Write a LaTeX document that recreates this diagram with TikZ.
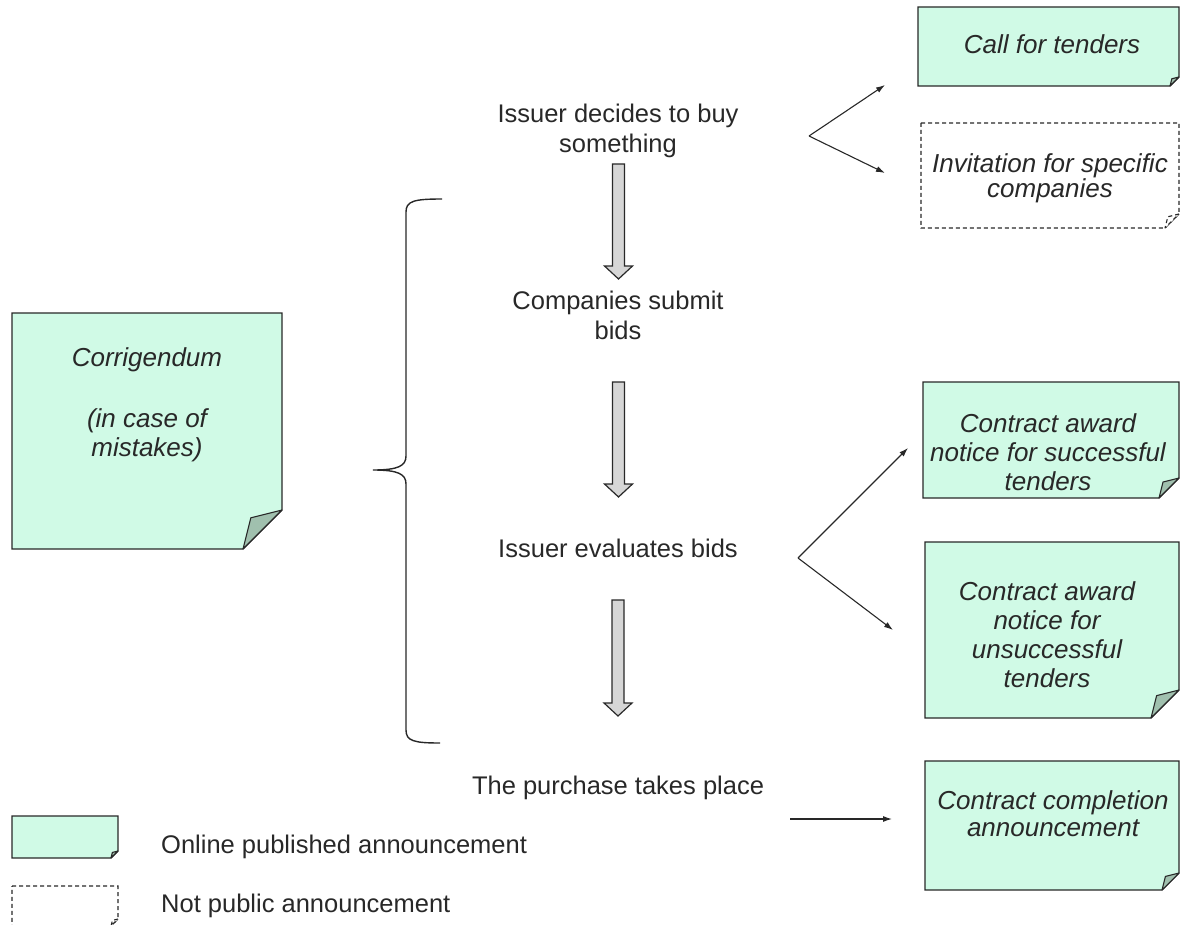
\documentclass[tikz,border=0pt]{standalone}
\usepackage{fontspec}
\setmainfont{Liberation Sans}
\usetikzlibrary{arrows.meta}

\definecolor{mint}{RGB}{208,250,230}
\definecolor{foldgreen}{RGB}{160,192,174}
\definecolor{ink}{RGB}{40,40,40}
\definecolor{arrowgray}{RGB}{214,214,214}

\tikzset{
  holder/.style={rectangle, inner sep=0pt, outer sep=0pt, anchor=north west},
  paperline/.style={draw=ink, line width=1.1pt, fill=mint, line join=miter},
  foldline/.style={draw=ink, line width=1.1pt, fill=foldgreen, line join=round},
  dashedpaper/.style={fill=white, dash pattern=on 4pt off 3pt},
  steptext/.style={font=\fontsize{25.5pt}{30pt}\selectfont, text=ink, align=center, inner sep=0pt},
  notetext/.style={font=\fontsize{26pt}{29pt}\selectfont\itshape, text=ink, align=center, inner sep=0pt},
  link/.style={draw=ink, line width=1.1pt, -{Latex[length=9pt,width=6pt]}},
  blockarrow/.style={draw=ink, fill=arrowgray, line width=1.2pt, line join=miter},
  bracket/.style={draw=ink, line width=1.4pt}
}

% sheet of paper with a folded lower right corner: [style] node, fold size
\newcommand\sheet[3][]{%
  \filldraw[paperline,#1] (#2.north west) -- (#2.north east)
    -- ([yshift=#3]#2.south east) -- ([xshift=-#3]#2.south east)
    -- (#2.south west) -- cycle;
  \filldraw[foldline,#1] ([yshift=#3]#2.south east)
    -- ([shift={(-0.8*#3,0.8*#3)}]#2.south east)
    -- ([xshift=-#3]#2.south east) -- cycle;}

% wide grey downward arrow: x, top, tip
\newcommand\blockarrow[3]{%
  \draw[blockarrow] (#1-6,#2) -- (#1+6,#2) -- (#1+6,#3-13) -- (#1+14,#3-13)
    -- (#1,#3) -- (#1-14,#3-13) -- (#1-6,#3-13) -- cycle;}

\begin{document}
\begin{tikzpicture}[x=1pt,y=-1pt]
\useasboundingbox (0,0) rectangle (1182,925);

% announcement sheets
\node[holder, minimum width=261pt, minimum height=79pt]  (call)   at (918,7)   {};
\node[holder, minimum width=258pt, minimum height=105pt] (invit)  at (921,123) {};
\node[holder, minimum width=270pt, minimum height=236pt] (corr)   at (12,313)  {};
\node[holder, minimum width=256pt, minimum height=116pt] (succ)   at (923,382) {};
\node[holder, minimum width=254pt, minimum height=176pt] (unsucc) at (925,542) {};
\node[holder, minimum width=254pt, minimum height=129pt] (compl)  at (925,761) {};
\node[holder, minimum width=106pt, minimum height=42pt]  (legpub) at (12,816)  {};
\node[holder, minimum width=106pt, minimum height=40pt]  (legnot) at (12,886)  {};

\sheet{call}{9pt}
\sheet[dashedpaper]{invit}{14pt}
\sheet{corr}{39pt}
\sheet{succ}{20pt}
\sheet{unsucc}{28pt}
\sheet{compl}{17pt}
\sheet{legpub}{7pt}
\sheet[dashedpaper]{legnot}{7pt}

\node[notetext] (call-t) at (1052,44) {Call for tenders};
\node[notetext, font=\fontsize{26pt}{25pt}\selectfont\itshape] (invit-t) at (1050,178)
  {Invitation for specific\\companies};
\node[notetext] (corr-t) at (147,405) {Corrigendum\\[32pt](in case of\\mistakes)};
\node[notetext] (succ-t) at (1048,452) {Contract award\\notice for successful\\tenders};
\node[notetext] (unsucc-t) at (1047,635) {Contract award\\notice for\\unsuccessful\\tenders};
\node[notetext, font=\fontsize{26pt}{27pt}\selectfont\itshape] (compl-t) at (1053,814)
  {Contract completion\\announcement};

% process steps
\node[steptext] (issuer)    at (618,131) {Issuer decides to buy\\something};
\node[steptext] (companies) at (618,315) {Companies submit\\bids};
\node[steptext] (evaluate)  at (618,548) {Issuer evaluates bids};
\node[steptext] (purchase)  at (618,788) {The purchase takes place};

\blockarrow{618.5}{164}{279}
\blockarrow{618.5}{382}{497}
\blockarrow{618}{600}{716}

% brace grouping the bidding phase
\coordinate (bracetip) at (373,470);
\draw[bracket] (442,199) .. controls (414,199) and (406,201) .. (406,212)
  -- (406,456) .. controls (406,466) and (398,470) .. (bracetip)
  .. controls (398,470) and (406,474) .. (406,484)
  -- (406,730) .. controls (406,741) and (414,743) .. (440,743);

% announcement arrows
\coordinate (fork1) at (809,136);
\coordinate (tip1) at (885,85);
\coordinate (tip2) at (885,173);
\draw[link] (fork1) -- (tip1);
\draw[link] (fork1) -- (tip2);

\coordinate (fork2) at (798,558);
\coordinate (tip3) at (908,448);
\coordinate (tip4) at (893,630);
\draw[link] (fork2) -- (tip3);
\draw[link] (fork2) -- (tip4);

\coordinate (start5) at (790,819);
\coordinate (tip5) at (892,819);
\draw[link] (start5) -- (tip5);

% legend
\node[steptext, anchor=west] (legpub-t) at (161,847) {Online published announcement};
\node[steptext, anchor=west] (legnot-t) at (161,906) {Not public announcement};
\end{tikzpicture}
\end{document}
